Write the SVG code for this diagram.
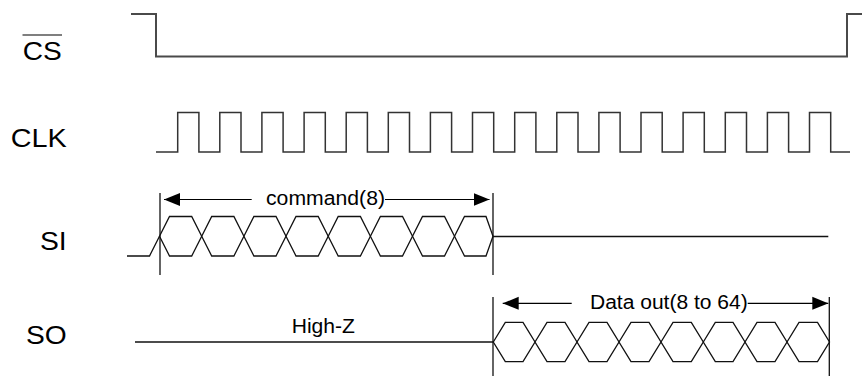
<svg xmlns="http://www.w3.org/2000/svg" width="862" height="378" viewBox="0 0 862 378">
<style>
.lbl{font-family:"Liberation Sans",Arial,sans-serif;font-size:26px;fill:#000}
.ann{font-family:"Liberation Sans",Arial,sans-serif;font-size:20px;fill:#000}
.cs{fill:none;stroke:#4a4a4a;stroke-width:2}
.clk{fill:none;stroke:#333;stroke-width:1.5}
.sig{fill:none;stroke:#111;stroke-width:1.3}
.mark{fill:none;stroke:#111;stroke-width:1.3}
.arr{fill:none;stroke:#000;stroke-width:1.2;marker-end:url(#ah)}
</style>
<defs>
<marker id="ah" markerUnits="userSpaceOnUse" markerWidth="16" markerHeight="14" refX="16" refY="7" orient="auto">
<path d="M0,0.5 L16,7 L0,13.5 Z" fill="#000"/>
</marker>
</defs>
<g id="labels">
<text class="lbl" x="22.7" y="59.5" textLength="39" lengthAdjust="spacingAndGlyphs">CS</text>
<line x1="22.5" y1="35" x2="62" y2="35" stroke="#000" stroke-width="1.2"/>
<text class="lbl" x="10.7" y="146.7" textLength="56" lengthAdjust="spacingAndGlyphs">CLK</text>
<text class="lbl" x="40" y="250" textLength="26.7" lengthAdjust="spacingAndGlyphs">SI</text>
<text class="lbl" x="26" y="344" textLength="40.7" lengthAdjust="spacingAndGlyphs">SO</text>
</g>
<g id="cs-wave">
<path class="cs" d="M131,14 H156 V56.5 H847 V14 H862"/>
</g>
<g id="clk-wave">
<path class="clk" d="M156,152 H177.7 V112.5 H198.9 V152 H219.8 V112.5 H241 V152 H261.9 V112.5 H283.1 V152 H304.1 V112.5 H325.3 V152 H346.2 V112.5 H367.4 V152 H388.3 V112.5 H409.5 V152 H430.4 V112.5 H451.6 V152 H472.5 V112.5 H493.7 V152 H514.7 V112.5 H535.9 V152 H556.8 V112.5 H578 V152 H598.9 V112.5 H620.1 V152 H641 V112.5 H662.2 V152 H683.1 V112.5 H704.3 V152 H725.3 V112.5 H746.5 V152 H767.4 V112.5 H788.6 V152 H809.5 V112.5 H830.7 V152 H850"/>
</g>
<g id="si-wave">
<path class="sig" d="M127,256 H149.5 L159.5,236.3"/>
<path class="sig" d="M159.5,236.3 L169.5,216.5 H191.7 L201.7,236.3 L191.7,256 H169.5 Z"/>
<path class="sig" d="M201.7,236.3 L211.7,216.5 H233.9 L243.9,236.3 L233.9,256 H211.7 Z"/>
<path class="sig" d="M243.9,236.3 L253.9,216.5 H276 L286,236.3 L276,256 H253.9 Z"/>
<path class="sig" d="M286,236.3 L296,216.5 H318.2 L328.2,236.3 L318.2,256 H296 Z"/>
<path class="sig" d="M328.2,236.3 L338.2,216.5 H360.4 L370.4,236.3 L360.4,256 H338.2 Z"/>
<path class="sig" d="M370.4,236.3 L380.4,216.5 H402.5 L412.5,236.3 L402.5,256 H380.4 Z"/>
<path class="sig" d="M412.5,236.3 L422.5,216.5 H444.5 L454.5,236.3 L444.5,256 H422.5 Z"/>
<path class="sig" d="M454.5,236.3 L464.5,216.5 H486 L493,236.3 L486,256 H464.5 Z"/>
<path class="sig" d="M493,236.5 H828.3"/>
</g>
<g id="so-wave">
<path class="sig" d="M135,342 H493.3"/>
<path class="sig" d="M493.3,342 L505.3,322.3 H523 L535,342 L523,361.7 H505.3 Z"/>
<path class="sig" d="M535,342 L547,322.3 H565 L577,342 L565,361.7 H547 Z"/>
<path class="sig" d="M577,342 L589,322.3 H607 L619,342 L607,361.7 H589 Z"/>
<path class="sig" d="M619,342 L631,322.3 H649 L661,342 L649,361.7 H631 Z"/>
<path class="sig" d="M661,342 L673,322.3 H691.3 L703.3,342 L691.3,361.7 H673 Z"/>
<path class="sig" d="M703.3,342 L715.3,322.3 H733 L745,342 L733,361.7 H715.3 Z"/>
<path class="sig" d="M745,342 L757,322.3 H775 L787,342 L775,361.7 H757 Z"/>
<path class="sig" d="M787,342 L799,322.3 H817.5 L829.5,342 L817.5,361.7 H799 Z"/>
<text class="ann" x="291.7" y="333.3" textLength="63.3" lengthAdjust="spacingAndGlyphs">High-Z</text>
</g>
<g id="connectors">
<line class="mark" x1="160" y1="193" x2="160" y2="275"/>
<line class="mark" x1="493" y1="193" x2="493" y2="275"/>
<line class="mark" x1="493" y1="297" x2="493" y2="376"/>
<line class="mark" x1="829.3" y1="297" x2="829.3" y2="376"/>
<line class="arr" x1="251.7" y1="199.5" x2="164" y2="199.5"/>
<line class="arr" x1="385" y1="199.5" x2="489.5" y2="199.5"/>
<line class="arr" x1="571.7" y1="303.3" x2="502.7" y2="303.3"/>
<line class="arr" x1="747.7" y1="303.3" x2="828.3" y2="303.3"/>
<text class="ann" x="266" y="205" textLength="119" lengthAdjust="spacingAndGlyphs">command(8)</text>
<text class="ann" x="590" y="309" textLength="157.7" lengthAdjust="spacingAndGlyphs">Data out(8 to 64)</text>
</g>
</svg>
